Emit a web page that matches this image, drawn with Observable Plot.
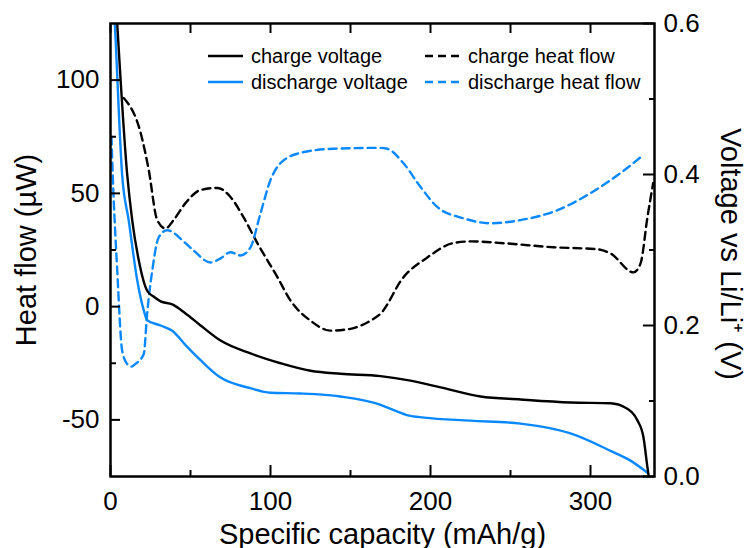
<!DOCTYPE html>
<html><head><meta charset="utf-8">
<script src="https://cdn.jsdelivr.net/npm/d3@7"></script>
<script src="https://cdn.jsdelivr.net/npm/@observablehq/plot@0.6"></script>
<style>
body{margin:0;background:#fff;font-family:"Liberation Sans",Arial,sans-serif;}
#wrap{position:relative;width:747px;height:548px;}
.item{position:absolute;display:flex;align-items:center;height:26px;font-size:20px;color:#000;white-space:nowrap;}
.item svg{display:block;}
</style></head><body>
<div id="wrap"><div id="chart"></div><div id="legend"></div></div>
<script>
// ---- data ----
const chargeVoltageCap = [3.5, 4.2, 10.4, 13.6, 17.7, 22.9, 27.1, 31.3, 38.6, 46.9, 56.3, 68.8, 87.5, 106.3, 125, 143.8, 168.8, 187.5, 206.3, 231.3, 256.3, 287.5, 312.5, 321.9, 329.4, 333.1, 335.6, 336.4];
const chargeVoltageV   = [0.625, 0.600, 0.401, 0.339, 0.286, 0.246, 0.238, 0.232, 0.228, 0.216, 0.200, 0.180, 0.163, 0.150, 0.140, 0.136, 0.133, 0.127, 0.118, 0.106, 0.102, 0.098, 0.097, 0.091, 0.074, 0.052, 0.012, 0.0];

const dischargeVoltageCap = [2.2, 2.7, 7.3, 11.4, 16.7, 20.8, 22.9, 31.3, 38.6, 46.9, 56.3, 68.8, 87.5, 100, 118.8, 143.8, 168.8, 177, 186, 196, 225, 256.3, 287.5, 312.5, 325, 335.6];
const dischargeVoltageV   = [0.62, 0.600, 0.399, 0.339, 0.260, 0.220, 0.207, 0.200, 0.193, 0.174, 0.154, 0.131, 0.117, 0.111, 0.110, 0.106, 0.095, 0.088, 0.081, 0.078, 0.074, 0.070, 0.057, 0.034, 0.021, 0.005];

const chargeHeatCap = [8.3, 18.8, 23.9, 29.2, 34.4, 39.4, 46.9, 56.3, 66.9, 75, 83.1, 91.9, 104.4, 112.5, 125, 137.5, 150, 162.5, 168.8, 183, 198, 214, 225, 245.6, 276.9, 304.4, 312.5, 326.9, 331.3, 335.6, 339.2];
const chargeHeatHF  = [92.1, 76.8, 60.3, 38.2, 34.5, 38.2, 45.7, 51.5, 52.4, 48.4, 39.5, 27.9, 12.9, 2.7, -6.2, -10.6, -9.8, -6.2, -3.1, 12.9, 21.7, 28.0, 28.8, 28.0, 26.2, 25.3, 23.5, 15.1, 19.1, 39.5, 54.6];

const dischargeHeatCap = [0.6, 1.4, 4.2, 7.3, 10.4, 13.0, 15.6, 20.8, 22.9, 26.1, 30.2, 35.4, 46.9, 51.9, 62.5, 68.8, 75, 81.3, 87.5, 93.8, 100, 106.3, 118.8, 139.4, 168.8, 173, 183, 193.8, 204.4, 220.6, 237.5, 256.3, 279.4, 300, 318.8, 333.1];
const dischargeHeatHF  = [75.1, 58.1, 16.0, -19.5, -25.3, -26.5, -25.3, -20.9, -3.1, 16.0, 30.7, 33.7, 28.0, 24.8, 19.5, 21.3, 24.0, 22.6, 26.2, 41.3, 55.9, 63.4, 67.9, 69.7, 70.1, 69.7, 63.4, 52.8, 43.9, 39.0, 36.8, 38.2, 42.6, 50.1, 59.0, 67.0];

const xTicks = [0, 100, 200, 300];
const xMinorTicks = [50, 150, 250];
const hfTicks = [-50, 0, 50, 100];
const hfMinorTicks = [-25, 25, 75];
const vTicks = [0.0, 0.2, 0.4, 0.6];
const vMinorTicks = [0.1, 0.3, 0.5];

const xTitle = "Specific capacity (mAh/g)";
const yTitle = "Heat flow (\u00b5W)";
const y2Title = "Voltage vs Li/Li\u207a (V)";
const legendLabels = ["charge voltage", "discharge voltage", "charge heat flow", "discharge heat flow"];

// ---- chart ----
const BLUE = "#0a88ff";
const hfDomain = [-75, 125];
const vDomain = [0, 0.6];
const vToHF = d3.scaleLinear().domain(vDomain).range(hfDomain);
const pts = (caps, vals, f) => caps.map((c, i) => ({x: c, y: f ? f(vals[i]) : vals[i]}));

const W = 747, H = 548, ML = 110, MR = 93, MT = 23, MB = 72;
const PW = W - ML - MR, PH = H - MT - MB;
const FONT = "'Liberation Sans', Arial, Helvetica, sans-serif";

const lineOpts = {x: "x", y: "y", strokeWidth: 2.4, curve: "monotone-x", clip: true};
const tickOpts = {stroke: "#000", strokeWidth: 2};

const chart = Plot.plot({
  width: W, height: H,
  marginLeft: ML, marginRight: MR, marginTop: MT, marginBottom: MB,
  style: {fontFamily: FONT, color: "#000", background: "#fff", overflow: "visible"},
  x: {domain: [0, 340]},
  y: {domain: hfDomain},
  marks: [
    Plot.line(pts(chargeHeatCap, chargeHeatHF), {...lineOpts, stroke: "#000", strokeDasharray: "8,5"}),
    Plot.line(pts(dischargeHeatCap, dischargeHeatHF), {...lineOpts, stroke: BLUE, strokeDasharray: "8,5"}),
    Plot.line(pts(dischargeVoltageCap, dischargeVoltageV, vToHF), {...lineOpts, stroke: BLUE}),
    Plot.line(pts(chargeVoltageCap, chargeVoltageV, vToHF), {...lineOpts, stroke: "#000"}),
    Plot.frame({stroke: "#000", strokeWidth: 2.5}),
    Plot.tickX(xTicks, {...tickOpts, x: d => d, insetTop: PH - 11}),
    Plot.tickX(xMinorTicks, {...tickOpts, x: d => d, insetTop: PH - 6}),
    Plot.tickX(xTicks.concat(xMinorTicks), {...tickOpts, x: d => d, insetBottom: PH - 10}),
    Plot.tickY(hfTicks, {...tickOpts, y: d => d, insetRight: PW - 10}),
    Plot.tickY(hfMinorTicks, {...tickOpts, y: d => d, insetRight: PW - 6}),
    Plot.tickY(vTicks, {...tickOpts, y: d => vToHF(d), insetLeft: PW - 11}),
    Plot.tickY(vMinorTicks, {...tickOpts, y: d => vToHF(d), insetLeft: PW - 5}),
    Plot.axisX(xTicks, {tickSize: 0, tickPadding: 15, fontSize: 26, label: null, tickFormat: d => String(d)}),
    Plot.axisY(hfTicks, {anchor: "left", tickSize: 0, tickPadding: 11, fontSize: 26, label: null, tickFormat: d => String(d)}),
    Plot.axisY(vTicks.map(v => vToHF(v)), {anchor: "right", tickSize: 0, tickPadding: 9, fontSize: 26, label: null, tickFormat: d => vToHF.invert(d).toFixed(1)}),
    Plot.text([xTitle], {text: d => d, frameAnchor: "bottom", textAnchor: "middle", lineAnchor: "bottom", dy: 67, fontSize: 29}),
    Plot.text([yTitle], {text: d => d, frameAnchor: "left", textAnchor: "middle", lineAnchor: "bottom", rotate: -90, dx: -75, fontSize: 29}),
    Plot.text([y2Title], {text: d => d, frameAnchor: "right", textAnchor: "middle", lineAnchor: "bottom", rotate: 90, dx: 66, dy: 4, fontSize: 29})
  ]
});
document.getElementById("chart").appendChild(chart);

// ---- legend (inside the frame, top) ----
const legendItems = [
  {label: legendLabels[0], color: "#000", dash: null, left: 208, top: 56, lineW: 35, gap: 8},
  {label: legendLabels[1], color: BLUE, dash: null, left: 208, top: 82, lineW: 35, gap: 8},
  {label: legendLabels[2], color: "#000", dash: "8,5", left: 425, top: 56, lineW: 35, gap: 8},
  {label: legendLabels[3], color: BLUE, dash: "8,5", left: 425, top: 82, lineW: 35, gap: 8}
];
const legend = d3.select("#legend");
for (const it of legendItems) {
  const div = legend.append("div").attr("class", "item")
    .style("left", it.left + "px").style("top", (it.top - 13) + "px");
  const svg = div.append("svg").attr("width", it.lineW).attr("height", 4).style("margin-right", it.gap + "px");
  svg.append("line").attr("x1", 0).attr("x2", it.lineW).attr("y1", 2).attr("y2", 2)
    .attr("stroke", it.color).attr("stroke-width", 2.4).attr("stroke-dasharray", it.dash);
  div.append("span").text(it.label);
}
</script>
</body></html>
